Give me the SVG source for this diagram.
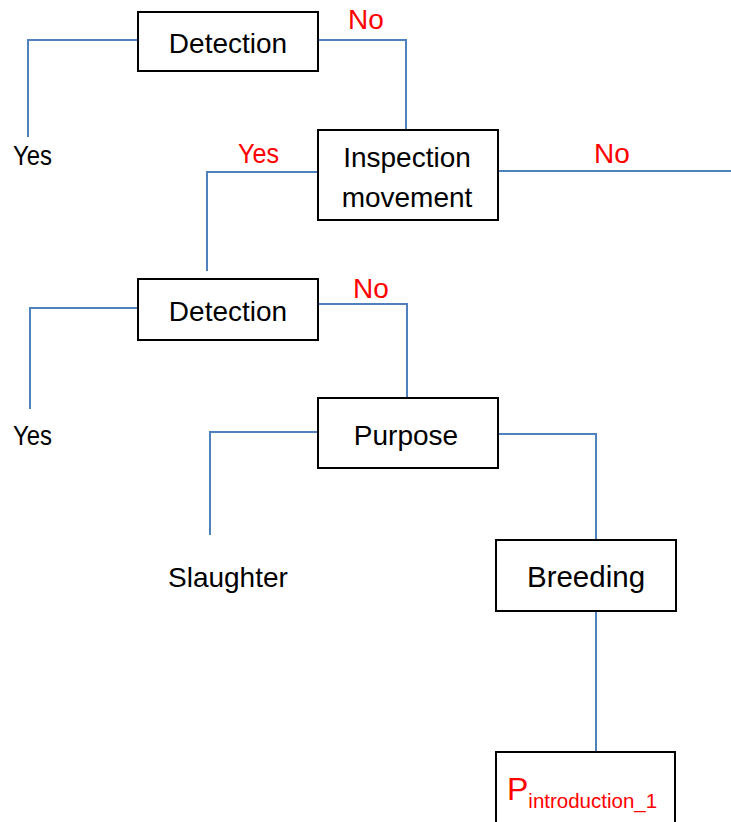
<svg xmlns="http://www.w3.org/2000/svg" width="731" height="822" viewBox="0 0 731 822">
<style>
.box{fill:#fff;stroke:#000;stroke-width:2}
.c{fill:none;stroke:#4F81BD;stroke-width:2}
text{font-family:"Liberation Sans",Arial,sans-serif;font-size:28px;fill:#000}
.r{fill:#FF0000}
.m{text-anchor:middle}
</style>
<rect width="731" height="822" fill="#fff"/>
<g id="connectors">
<polyline class="c" points="137,40 28,40 28,137"/>
<polyline class="c" points="318,40 406,40 406,130"/>
<polyline class="c" points="318,172 207,172 207,271"/>
<polyline class="c" points="498,171 731,171"/>
<polyline class="c" points="137,308 30,308 30,409"/>
<polyline class="c" points="318,304 407,304 407,397"/>
<polyline class="c" points="317,432 210,432 210,535"/>
<polyline class="c" points="498,434 596,434 596,540"/>
<polyline class="c" points="596,611 596,752"/>
</g>
<g id="labels">
<text x="13" y="165" textLength="39" lengthAdjust="spacingAndGlyphs">Yes</text>
<text class="r" x="348" y="29">No</text>
<text class="r" x="238" y="163" textLength="41" lengthAdjust="spacingAndGlyphs">Yes</text>
<text class="r" x="594" y="163">No</text>
<text x="13" y="445" textLength="39" lengthAdjust="spacingAndGlyphs">Yes</text>
<text class="r" x="353" y="298">No</text>
<text x="168" y="587">Slaughter</text>
</g>
<g id="detection1">
<rect class="box" x="138" y="12" width="180" height="59"/>
<text class="m" x="228" y="53">Detection</text>
</g>
<g id="inspection">
<rect class="box" x="318" y="130" width="180" height="90"/>
<text class="m" x="407" y="167">Inspection</text>
<text class="m" x="407" y="207">movement</text>
</g>
<g id="detection2">
<rect class="box" x="138" y="279" width="180" height="61"/>
<text class="m" x="228" y="321">Detection</text>
</g>
<g id="purpose">
<rect class="box" x="318" y="398" width="180" height="70"/>
<text class="m" x="406" y="445">Purpose</text>
</g>
<g id="breeding">
<rect class="box" x="496" y="540" width="180" height="71"/>
<text class="m" x="586" y="587" style="font-size:29.5px">Breeding</text>
</g>
<g id="pintro">
<rect class="box" x="496" y="752" width="179" height="80"/>
<text class="r" x="507" y="800" style="font-size:32px">P<tspan style="font-size:20.5px" dy="8">introduction_1</tspan></text>
</g>
</svg>
